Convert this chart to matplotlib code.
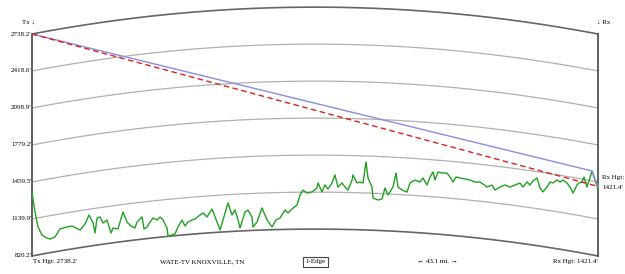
import numpy as np
import matplotlib.pyplot as plt

plt.rcParams['font.family'] = ['Liberation Serif', 'DejaVu Serif']

# path data
station = "WATE-TV KNOXVILLE, TN"
path_len = 43.1      # miles
tx_hgt = 2738.2      # ft
rx_hgt = 1421.4      # ft
k_factor = 4.0 / 3.0
levels = [2738.2, 2418.6, 2098.9, 1779.2, 1459.5, 1139.9, 820.2]

# terrain profile (miles, ft above sea level)
dist_mi = [0.00, 0.23, 0.46, 0.76, 1.14, 1.37, 1.75, 2.13, 2.67, 3.05,
           3.66, 4.04, 4.34, 4.65, 4.80, 4.95, 5.18, 5.41, 5.71, 6.02,
           6.17, 6.55, 6.93, 7.23, 7.54, 7.84, 8.00, 8.38, 8.53, 8.76,
           8.99, 9.21, 9.52, 9.75, 9.98, 10.28, 10.36, 10.66, 10.89, 11.12,
           11.42, 11.65, 11.88, 12.18, 12.41, 12.79, 13.02, 13.33, 13.71, 14.09,
           14.32, 14.54, 14.93, 15.23, 15.46, 15.69, 15.84, 16.22, 16.45, 16.75,
           16.83, 17.13, 17.51, 17.90, 18.28, 18.58, 18.89, 19.27, 19.49, 19.88,
           20.18, 20.41, 20.64, 20.94, 21.32, 21.70, 21.78, 22.08, 22.31, 22.54,
           22.84, 23.07, 23.30, 23.61, 23.83, 24.06, 24.37, 24.44, 24.75, 24.98,
           25.21, 25.43, 25.59, 25.89, 25.97, 26.35, 26.65, 26.88, 27.11, 27.49,
           27.72, 27.87, 28.18, 28.56, 28.78, 29.17, 29.55, 29.77, 30.08, 30.31,
           30.54, 30.69, 30.92, 31.22, 31.60, 31.83, 32.06, 32.29, 32.59, 32.97,
           33.35, 33.73, 34.11, 34.65, 35.03, 35.26, 35.64, 36.02, 36.40, 36.78,
           37.16, 37.39, 37.69, 37.92, 38.15, 38.46, 38.68, 38.91, 39.22, 39.45,
           39.67, 39.98, 40.21, 40.44, 40.74, 40.97, 41.20, 41.50, 41.65, 41.88,
           42.03, 42.26, 42.49, 42.64, 42.87, 43.10]
elev_ft = [1370, 1195, 1061, 985, 951, 938, 948, 1010, 1017, 1018,
           972, 1018, 1090, 1016, 927, 1054, 1059, 1003, 1024, 907,
           948, 934, 1075, 984, 945, 924, 973, 1012, 906, 920,
           960, 992, 971, 994, 966, 893, 823, 829, 835, 893,
           950, 896, 928, 943, 949, 980, 996, 959, 1025, 909,
           839, 923, 1068, 962, 1004, 916, 846, 982, 998, 936,
           849, 891, 1011, 906, 844, 903, 920, 988, 961, 1004,
           1029, 1115, 1158, 1132, 1141, 1175, 1219, 1141, 1202, 1167,
           1219, 1289, 1185, 1221, 1187, 1161, 1248, 1292, 1224, 1233,
           1225, 1408, 1270, 1193, 1099, 1083, 1093, 1190, 1130, 1202,
           1324, 1204, 1180, 1165, 1245, 1273, 1259, 1296, 1238, 1309,
           1354, 1286, 1357, 1352, 1355, 1323, 1282, 1328, 1323, 1318,
           1314, 1301, 1306, 1270, 1292, 1252, 1283, 1306, 1294, 1317,
           1340, 1309, 1358, 1335, 1374, 1405, 1322, 1292, 1340, 1387,
           1383, 1414, 1401, 1423, 1403, 1372, 1325, 1400, 1421, 1434,
           1480, 1398, 1481, 1545, 1472, 1399]


def bulge(d):
    # earth bulge in feet, d in miles
    d = np.asarray(d, dtype=float)
    return d * (path_len - d) / (1.5 * k_factor)


d = np.array(dist_mi)
shown = np.array(elev_ft) + bulge(d)

# knife edge = terrain point with the highest angle seen from Tx
slopes = (shown[1:] - tx_hgt) / d[1:]
edge = np.argmax(slopes) + 1

fig = plt.figure(figsize=(6.25, 2.74), dpi=100)
ax = fig.add_axes([0, 0, 1, 1])
px = path_len / 566.0      # miles per pixel
fpx = 8.641                # feet per pixel
ax.set_xlim(-32 * px, path_len + 27 * px)
ax.set_ylim(664.4, 3032.0)
ax.axis('off')
fs = 5

# curved earth lines
xs = np.linspace(0, path_len, 200)
for i, lv in enumerate(levels):
    edge_line = i == 0 or i == len(levels) - 1
    ax.plot(xs, lv + bulge(xs), color='#666666' if edge_line else '#b0b0b0',
            lw=1.2 if edge_line else 0.9, zorder=1)
    ax.text(-0.5 * px, lv, "%.1f'" % lv, ha='right', va='center', fontsize=fs)

ax.plot([0, 0], [levels[-1], levels[0]], color='#555555', lw=1.3, zorder=2)
ax.plot([path_len, path_len], [levels[-1], levels[0]], color='#555555', lw=1.3, zorder=2)

# terrain
ax.plot(d, shown, color='#22a022', lw=1.0, zorder=3)

# path to knife edge, and direct path
ax.plot([0, d[edge], path_len], [tx_hgt, shown[edge], rx_hgt],
        color='#8c8ce0', lw=1.0, zorder=4)
ax.plot([0, path_len], [tx_hgt, rx_hgt], color='#dd2020', lw=1.0,
        ls=(0, (4, 2.5)), zorder=5)

# labels
ax.text(-4 * px, 2738.2 + 12 * fpx, "Tx \u2193", ha='center', va='center', fontsize=fs)
ax.text(path_len - 1 * px, 2738.2 + 12 * fpx, "\u2193 Rx", ha='left', va='center', fontsize=fs)
ax.text(path_len + 4 * px, rx_hgt + 8.4 * fpx, "Rx Hgt:", ha='left', va='center', fontsize=fs)
ax.text(path_len + 4 * px, rx_hgt - 1.6 * fpx, "%.1f'" % rx_hgt, ha='left', va='center', fontsize=fs)

yb = 820.2 - 6 * fpx
ax.text(1 * px, yb, "Tx Hgt: %.1f'" % tx_hgt, ha='left', va='center', fontsize=fs)
ax.text(170 * px, yb, station, ha='center', va='center', fontsize=fs)
ax.text(283.5 * px, yb, "1-Edge", ha='center', va='center', fontsize=fs,
        bbox=dict(boxstyle='square,pad=0.3', fc='white', ec='#444444', lw=0.8))
ax.text(405.5 * px, yb, "\u2190 %.1f mi. \u2192" % path_len, ha='center', va='center', fontsize=fs)
ax.text(path_len, yb, "Rx Hgt: %.1f'" % rx_hgt, ha='right', va='center', fontsize=fs)

fig.savefig('out.png', dpi=100, facecolor='white')
